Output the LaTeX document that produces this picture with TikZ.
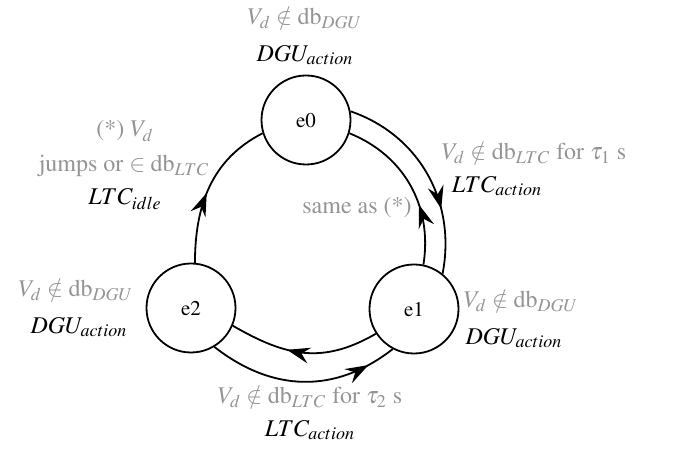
\documentclass[tikz,border=0pt]{standalone}
\usepackage[T1]{fontenc}
\usepackage{mathptmx}
\usetikzlibrary{arrows.meta,decorations.markings}
\definecolor{condgray}{gray}{0.58}
\tikzset{
  stnode/.style={circle, draw, line width=0.9pt, minimum size=44.5pt, inner sep=0pt,
    font=\fontsize{10.5}{12}\selectfont},
  edge/.style={line width=0.9pt},
  arrowat/.style={postaction={decorate},
    decoration={markings, mark=at position #1 with {\arrow{Stealth[length=11.5pt,width=8pt,inset=4pt]}}}},
  cond/.style={text=condgray, inner sep=0pt, font=\fontsize{12}{14}\selectfont},
  act/.style={text=black, inner sep=0pt, font=\fontsize{12}{14}\selectfont},
}
\begin{document}
\begin{tikzpicture}[x=0.5pt,y=0.5pt]
\useasboundingbox (0,0) rectangle (673,449);

% states
\node[stnode] (e0) at (306,329) {e0};
\node[stnode] (e1) at (414,140) {e1};
\node[stnode] (e2) at (191,141) {e2};

% transitions
\draw[edge, arrowat=0.46] (e2.85)  to[out=90,  in=207] (e0.197);
\draw[edge, arrowat=0.68] (e0.11)  to[out=-19, in=79]  (e1.51);
\draw[edge, arrowat=0.37] (e1.78)  to[out=81,  in=-22] (e0.-17);
\draw[edge, arrowat=0.61] (e1.213) to[out=210, in=-30, looseness=1.1] (e2.-23);
\draw[edge, arrowat=0.85] (e2.-59) to[out=-38, in=218, looseness=1.05] (e1.242);

% labels at e0
\node[cond] (c0) at (305,431) {$V_d \notin \mathrm{db}_{DGU}$};
\node[act]  (a0) at (305,394) {$DGU_{action}$};

% labels of e2 -> e0
\node[cond] (c20a) at (125,318) {(*) $V_d$};
\node[cond] (c20b) at (124,283) {jumps or $\in \mathrm{db}_{LTC}$};
\node[act]  (a20)  at (125,250) {$LTC_{idle}$};

% labels of e0 -> e1
\node[cond] (c01) at (534,296) {$V_d \notin \mathrm{db}_{LTC}$ for $\tau_1$ s};
\node[act]  (a01) at (497,263) {$LTC_{action}$};

% label of e1 -> e0
\node[cond] (c10) at (357,241) {same as (*)};

% labels at e1
\node[cond] (c1) at (521,148) {$V_d \notin \mathrm{db}_{DGU}$};
\node[act]  (a1) at (514,111) {$DGU_{action}$};

% labels at e2
\node[cond] (c2) at (76,159) {$V_d \notin \mathrm{db}_{DGU}$};
\node[act]  (a2) at (79,122) {$DGU_{action}$};

% labels of e2 -> e1
\node[cond] (c21) at (310,52) {$V_d \notin \mathrm{db}_{LTC}$ for $\tau_2$ s};
\node[act]  (a21) at (310,19) {$LTC_{action}$};
\end{tikzpicture}
\end{document}
